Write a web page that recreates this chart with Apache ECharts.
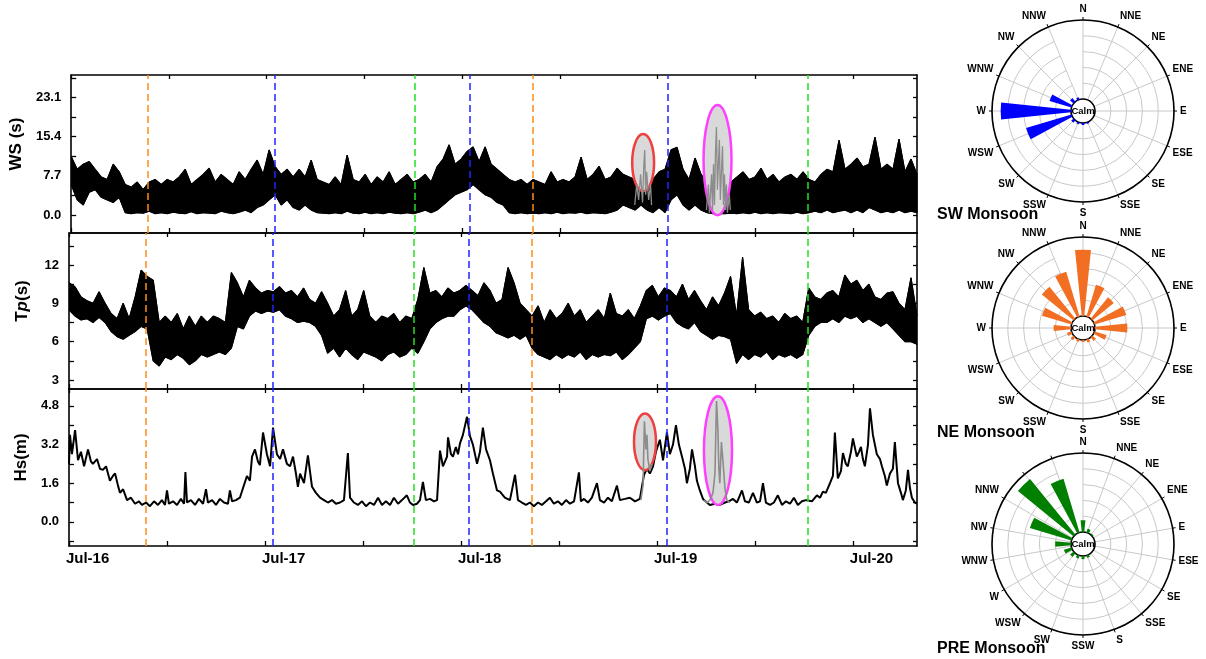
<!DOCTYPE html>
<html>
<head>
<meta charset="utf-8">
<script src="https://cdn.jsdelivr.net/npm/echarts@6/dist/echarts.min.js"></script>
<style>
  html, body { margin: 0; padding: 0; background: #fff; }
  #main { width: 1206px; height: 659px; }
</style>
</head>
<body>
<div id="main"></div>
<script>
// x axis: years counted from Jul-2016
var xMax = 4.327;
var yearLabels = ['Jul-16', 'Jul-17', 'Jul-18', 'Jul-19', 'Jul-20'];

// wind speed, read as low/high pairs every ~0.03 yr
var wsVals = [
  6,11.5, 3,9, 2,10, 4.5,10.5, 5,9, 3.5,7.5, 3,7, 2.5,10, 3.5,8.5, 0.5,6,
  0.3,5.5, 0.5,6.5, 0.4,5, 0.8,6.5, 0.3,7, 0.5,6, 0.3,7, 0.6,6.5, 0.4,7.5, 0.3,9,
  0.7,6, 0.3,7, 0.5,8, 0.4,9.2, 0.3,6.5, 0.8,8, 0.5,7, 0.3,6, 0.6,8.5, 1,7,
  0.5,9, 1.5,10.8, 2,8, 3,12.8, 4,9.5, 2,8, 3,9, 1.5,7.5, 1,9, 2,7.5,
  1,10.8, 0.5,7, 0.4,6.5, 0.3,6, 0.5,7.5, 0.3,6, 0.8,11.8, 0.4,7, 0.3,6.5, 0.6,8,
  0.3,6, 0.5,7.5, 0.3,6.5, 0.6,8.5, 0.4,6, 0.3,7, 0.5,8, 0.3,6.5, 0.6,7, 1,8,
  0.5,6.5, 1,9.5, 2,11, 3,13.8, 4,10, 4.5,11, 5,12.5, 6,13.4, 5,10.5, 4,13.4,
  3.5,10, 2.5,9, 2,8, 0.5,7, 0.3,6.5, 0.5,7, 0.3,6, 0.4,7, 0.3,6.5, 0.5,6,
  0.3,8.5, 0.6,6.5, 0.3,7, 0.5,6.5, 0.4,7.5, 0.6,11.4, 0.3,7, 0.5,8, 0.4,9.6, 0.3,7,
  0.6,7.5, 1,9.2, 2,8, 1.5,7.5, 1,7, 2,7.5, 1,8, 0.5,7, 1.5,8.5, 0.5,9,
  3,12.8, 4,13.3, 2,9, 1,7, 2,11.2, 1,8, 0.5,6.5, 0.3,5.5, 0.3,5, 0.3,6,
  0.4,6.5, 0.3,7.5, 0.5,8.5, 0.3,7, 0.6,7.5, 0.3,9.2, 0.5,7, 0.3,8, 0.5,6.5, 0.4,7.5,
  0.3,8, 0.6,7, 0.3,8.5, 0.5,7, 0.8,6.5, 0.5,8, 1,9, 0.5,8.5, 0.8,14.7, 1,9,
  0.5,10, 1,11.2, 0.5,9.5, 1.5,10, 1,15.3, 0.5,9, 0.8,10, 0.5,9, 1,14.9, 0.5,8.5,
  0.8,11, 0.5,8
];

// peak period, low/high pairs on the same spacing
var tpVals = [
  8.5,10.6, 8,10.3, 7.7,9.5, 7.8,9.2, 7.5,9, 7.9,9.9, 7.5,9, 6.8,8.2, 6.4,7.8, 6.2,9,
  6.5,7.8, 6.8,9.5, 7.2,11.6, 7,11.1, 4.5,10.8, 4.1,7.5, 4.8,8, 4.6,7.5, 5,8.2, 4.7,7,
  4.2,8, 4.5,7.2, 5,8, 4.8,7.5, 5,8, 5.2,7.8, 5,7.5, 5.5,11.4, 7.2,10.6, 7,9.5,
  8,10.8, 8.4,10.2, 8.2,9.8, 8.4,10, 8.3,9.9, 8.5,10.3, 8,9.8, 7.8,10, 7.5,9.5, 7.6,10.2,
  7.5,9.3, 7.2,9, 6.5,9.9, 5.1,9, 5.5,8, 4.8,8.5, 5.5,10, 5,8, 4.6,8.5, 5.2,10,
  5,8, 4.8,7.5, 4.5,8, 5,7.8, 5.2,8.2, 4.8,7.5, 5,8, 5.5,7.8, 5.1,9.3, 6,11.8,
  7,9.8, 7.5,10, 7.8,9.5, 8,10.2, 8,9.8, 8.5,10, 8.8,10.4, 8.5,10, 8,9.6, 7.5,10.6,
  7.2,10, 6.7,9, 6.5,9.3, 6.3,11.8, 6.5,10.6, 6.2,9, 6.5,8.5, 5.5,8, 5,8.8, 4.8,7.5,
  4.6,8.5, 5,7.8, 4.7,8.2, 5,9, 4.8,8, 5.2,8.5, 4.6,7.5, 5,8, 4.8,8.5, 5,7.8,
  4.9,9.8, 5.2,8.2, 4.6,8, 5,8.5, 5.5,7.8, 6,8.8, 7.8,10, 8,10.4, 7.7,9.5, 8,10.2,
  8.2,10, 7.5,9.5, 7.2,10.5, 7,9.3, 7.5,10, 6.8,9.2, 6.5,8.5, 6.2,9.5, 6.5,8.8, 6.4,9.8,
  6.2,11.1, 4.3,8, 5,12.6, 4.6,8.5, 5,8, 4.8,8.3, 5.2,7.8, 4.6,8, 5,7.5, 4.8,8.2,
  5,7.8, 4.7,8, 5,7.5, 6.5,10.2, 7.2,9.5, 7.5,9.3, 7.5,9.8, 7.8,10, 7.5,9.5, 8,11.2,
  7.8,10.5, 8,10.8, 7.5,10, 7.8,10.5, 7.5,9.5, 7.2,9.3, 7.5,9.8, 7,9.9, 6.5,9, 6,8.5,
  6,11, 5.8,8
];

// significant wave height [year, m]
var hsPoints = [
  [0,2.4],[0.005,3.6],[0.015,2.8],[0.031,3.8],[0.046,2.55],[0.061,2.9],[0.077,2.3],[0.097,3.0],[0.112,2.5],[0.122,2.4],
  [0.143,2.6],[0.158,2.2],[0.173,2.15],[0.189,2.3],[0.209,1.7],[0.224,1.9],[0.235,2.0],[0.25,1.5],[0.26,1.2],[0.276,1.35],
  [0.296,0.9],[0.316,1.0],[0.337,0.75],[0.357,0.85],[0.372,0.7],[0.393,0.8],[0.413,0.65],[0.434,0.85],[0.454,0.7],[0.474,0.9],
  [0.49,0.7],[0.5,1.3],[0.51,0.75],[0.531,0.85],[0.551,0.7],[0.571,0.95],[0.587,0.75],[0.594,2.06],[0.602,0.8],[0.622,0.9],
  [0.643,0.7],[0.663,0.95],[0.684,0.75],[0.699,1.35],[0.709,0.8],[0.73,0.9],[0.75,0.7],[0.77,0.95],[0.791,0.8],[0.811,0.75],
  [0.821,1.3],[0.832,0.85],[0.852,0.9],[0.872,1.0],[0.888,1.4],[0.908,1.9],[0.923,1.7],[0.934,2.7],[0.949,3.0],[0.964,2.5],
  [0.974,2.35],[0.99,3.7],[1.01,2.8],[1.026,2.3],[1.041,3.9],[1.061,2.8],[1.077,2.6],[1.092,3.0],[1.112,2.4],[1.128,2.3],
  [1.143,2.7],[1.158,2.0],[1.168,1.45],[1.179,2.0],[1.199,1.6],[1.219,2.75],[1.24,1.45],[1.26,1.2],[1.281,1.0],[1.301,0.9],
  [1.321,0.8],[1.342,0.9],[1.362,0.75],[1.383,0.8],[1.403,0.9],[1.423,2.85],[1.434,1.0],[1.454,0.8],[1.474,0.7],[1.495,0.85],
  [1.515,0.65],[1.536,0.8],[1.556,0.7],[1.577,1.0],[1.597,0.7],[1.617,0.85],[1.638,0.7],[1.658,1.0],[1.679,0.75],[1.699,0.9],
  [1.724,1.1],[1.74,0.8],[1.755,0.7],[1.776,0.75],[1.791,0.9],[1.806,1.65],[1.821,0.9],[1.842,0.95],[1.862,0.85],[1.878,0.9],
  [1.893,2.95],[1.908,2.3],[1.929,2.7],[1.934,3.5],[1.949,2.8],[1.959,2.7],[1.974,3.1],[1.985,2.8],[1.995,3.25],[2.01,3.6],
  [2.031,4.35],[2.046,3.55],[2.061,3.2],[2.082,2.4],[2.097,2.9],[2.112,3.9],[2.128,3.0],[2.148,2.55],[2.163,2.0],[2.184,1.3],
  [2.199,1.25],[2.224,1.0],[2.25,0.9],[2.276,1.95],[2.291,0.9],[2.311,0.8],[2.332,0.7],[2.352,0.8],[2.372,0.65],[2.393,0.8],
  [2.413,0.7],[2.434,0.85],[2.454,1.0],[2.474,0.75],[2.495,0.85],[2.515,0.7],[2.536,0.9],[2.556,0.75],[2.577,0.85],[2.602,2.05],
  [2.612,0.85],[2.628,0.95],[2.648,0.8],[2.668,1.0],[2.694,1.6],[2.709,0.9],[2.73,0.8],[2.75,1.0],[2.77,0.85],[2.796,1.5],
  [2.811,0.9],[2.837,0.95],[2.862,1.0],[2.888,0.85],[2.913,0.95],[2.923,0.9],[2.934,1.95],[2.949,2.2],[2.964,2.0],[2.98,2.3],
  [2.995,2.9],[3.015,3.4],[3.031,2.55],[3.051,3.7],[3.066,2.8],[3.082,3.2],[3.097,4.0],[3.112,3.2],[3.128,2.7],[3.143,2.2],
  [3.153,1.6],[3.168,2.2],[3.179,3.0],[3.194,2.3],[3.204,1.7],[3.219,1.3],[3.235,0.95],[3.255,0.8],[3.27,0.7],[3.296,0.75],
  [3.321,0.7],[3.347,0.8],[3.367,0.85],[3.388,0.95],[3.408,0.8],[3.434,1.3],[3.449,0.85],[3.469,0.8],[3.49,1.2],[3.51,0.8],
  [3.526,0.85],[3.541,1.6],[3.556,0.8],[3.577,0.7],[3.597,0.8],[3.617,1.1],[3.638,0.7],[3.658,0.85],[3.679,0.75],[3.699,1.0],
  [3.719,0.7],[3.74,0.85],[3.76,0.9],[3.77,0.95],[3.791,0.85],[3.816,1.1],[3.832,1.0],[3.847,1.25],[3.862,1.2],[3.883,1.6],
  [3.898,1.9],[3.908,3.7],[3.923,1.8],[3.939,2.1],[3.949,2.85],[3.964,2.4],[3.974,2.3],[3.99,2.9],[4.0,3.45],[4.02,2.7],
  [4.031,2.9],[4.041,3.1],[4.051,2.6],[4.061,2.3],[4.077,3.2],[4.087,4.7],[4.102,3.6],[4.122,2.8],[4.138,2.6],[4.148,2.3],
  [4.163,1.9],[4.173,1.5],[4.189,2.0],[4.204,2.2],[4.214,3.3],[4.23,1.6],[4.245,1.2],[4.255,0.9],[4.27,1.3],[4.281,2.15],
  [4.291,1.4],[4.301,1.0],[4.316,0.8],[4.327,0.75]
];

// gray traces inside the two highlighted events
var wsRedGray = [[2.883,2],[2.893,6],[2.903,3],[2.913,8],[2.923,2.5],[2.929,9.5],[2.934,12.8],[2.939,4],[2.944,8.5],[2.954,3],[2.964,6],[2.969,2]];
var wsPinkGray = [[3.25,1],[3.26,6],[3.265,0.5],[3.276,8],[3.281,1],[3.286,10],[3.291,2],[3.296,12],[3.301,17.3],[3.306,5],[3.311,10],
  [3.316,14.8],[3.321,3],[3.327,9],[3.332,13.5],[3.337,2],[3.342,8],[3.347,1],[3.352,6],[3.357,0.5],[3.367,4],[3.372,1]];
var hsRedGray = [[2.918,0.9],[2.929,1.5],[2.936,4.16],[2.944,3.0],[2.949,3.6],[2.954,2.6],[2.964,2.1],[2.974,2.4]];
var hsPinkGray = [[3.24,0.9],[3.255,0.8],[3.27,0.9],[3.286,1.2],[3.296,2.0],[3.304,5.0],[3.311,3.8],[3.316,2.2],[3.321,1.6],
  [3.329,3.3],[3.337,2.5],[3.347,1.4],[3.357,0.9],[3.372,0.8]];

// season boundaries (years from Jul-16)
var orangeLines = [0.39, 2.36];
var blueLines = [1.045, 2.043, 3.048];
var greenLines = [1.765, 3.775];

// wind roses, % per sector
var dirs = ['N','NNE','NE','ENE','E','ESE','SE','SSE','S','SSW','SW','WSW','W','WNW','NW','NNW'];
var preLabels = ['N','NNE','NE','ENE','E','ESE','SE','SSE','S','SSW','SW','WSW','W','WNW','NW','NNW','',''];
var swRose = [0,0,0,0,0,0,0,2,2.5,2.5,4,60,89,29,6,3];
var neRose = [84,42,35,42,41,16,6,4,2.5,3,5,6,22,39,52,59];
var preRose = [15,5,2,0,0,0,0,3,4,4,6,10,20,55,91,71];

var FONT = 'Liberation Sans, Arial, sans-serif';
var myChart = echarts.init(document.getElementById('main'));

function range(a, b, step) {
  var out = [];
  for (var v = a; v <= b + 1e-9; v += step) out.push(Math.round(v * 1000) / 1000);
  return out;
}

var gridDefs = [
  { top: 75, height: 158 },
  { top: 233, height: 156 },
  { top: 389, height: 157 }
];
var yDefs = [
  { min: -3.5, max: 27.5, labels: [0, 7.7, 15.4, 23.1], ticks: range(0, 27, 3.85), fix: 1,
    name: 'WS (s)' },
  { min: 2.3, max: 14.5, labels: [3, 6, 9, 12], ticks: range(3, 13.5, 1.5), fix: 0,
    name: '{n|T}{i|p}{n|(s)}' },
  { min: -1, max: 5.5, labels: [0, 1.6, 3.2, 4.8], ticks: range(-0.8, 5.2, 0.8), fix: 1,
    name: 'Hs(m)' }
];
var xTicks = range(0, 4, 0.5);
var frame = { onZero: false, lineStyle: { color: '#000', width: 1.6 } };

var grids = [], xAxes = [], yAxes = [];
gridDefs.forEach(function (g) {
  grids.push({ left: 69, right: 289, top: g.top, height: g.height, containLabel: false });
});
// bottom x axes 0..2
gridDefs.forEach(function (g, k) {
  xAxes.push({
    type: 'value', gridIndex: k, min: 0, max: xMax, position: 'bottom',
    axisLine: frame,
    axisTick: { inside: true, length: 5, customValues: xTicks, lineStyle: { color: '#000', width: 1.3 } },
    axisLabel: {
      show: k === 2, customValues: [0.095, 1.095, 2.095, 3.095, 4.095], margin: 5,
      formatter: function (v) { return yearLabels[Math.floor(v)]; },
      color: '#000', fontWeight: 'bold', fontSize: 15, fontFamily: FONT
    },
    splitLine: { show: false }
  });
});
// top x axes 3..5
gridDefs.forEach(function (g, k) {
  xAxes.push({
    type: 'value', gridIndex: k, min: 0, max: xMax, position: 'top',
    axisLine: frame,
    axisTick: { inside: true, length: 4, customValues: xTicks, lineStyle: { color: '#000', width: 1.3 } },
    axisLabel: { show: false }, splitLine: { show: false }
  });
});
// left y axes 0..2
yDefs.forEach(function (d, k) {
  yAxes.push({
    type: 'value', gridIndex: k, min: d.min, max: d.max, position: 'left',
    name: d.name, nameLocation: 'middle', nameGap: 38, nameRotate: 90,
    nameTextStyle: {
      color: '#000', fontWeight: 'bold', fontSize: 17, fontFamily: FONT, padding: [0, 0, 0, 20],
      rich: {
        n: { fontWeight: 'bold', fontSize: 17, fontFamily: FONT, color: '#000' },
        i: { fontWeight: 'bold', fontStyle: 'italic', fontSize: 17, fontFamily: FONT, color: '#000' }
      }
    },
    axisLine: Object.assign({ show: true }, frame),
    axisTick: { inside: true, length: 5, customValues: d.ticks, lineStyle: { color: '#000', width: 1.3 } },
    axisLabel: {
      customValues: d.labels, margin: 10,
      formatter: (function (fix) { return function (v) { return v.toFixed(fix); }; })(d.fix),
      color: '#000', fontWeight: 'bold', fontSize: 13, fontFamily: FONT
    },
    splitLine: { show: false }
  });
});
// right y axes 3..5
yDefs.forEach(function (d, k) {
  yAxes.push({
    type: 'value', gridIndex: k, min: d.min, max: d.max, position: 'right',
    axisLine: Object.assign({ show: true }, frame),
    axisTick: { inside: true, length: 4, customValues: d.ticks, lineStyle: { color: '#000', width: 1.3 } },
    axisLabel: { show: false }, splitLine: { show: false }
  });
});

function vLines() {
  var out = [];
  orangeLines.forEach(function (x) { out.push({ xAxis: x, lineStyle: { color: '#FF8C1A' } }); });
  blueLines.forEach(function (x) { out.push({ xAxis: x, lineStyle: { color: '#2222FF' } }); });
  greenLines.forEach(function (x) { out.push({ xAxis: x, lineStyle: { color: '#22E022' } }); });
  return {
    silent: true, symbol: 'none', label: { show: false }, z: 30,
    lineStyle: { type: [7, 4], width: 1.5 }, data: out
  };
}

function lineSeries(k, data, color, width, z) {
  return {
    type: 'line', xAxisIndex: k, yAxisIndex: k, data: data, showSymbol: false,
    symbol: 'none', z: z, lineStyle: { color: color, width: width }, animation: false
  };
}

// noisy records: a black band between the read lows and highs
function band(k, vals) {
  var dt = xMax / (vals.length / 2 - 1);
  var lows = [], highs = [];
  for (var i = 0; i < vals.length; i += 2) {
    var t = (i / 2) * dt;
    lows.push([t, vals[i]]);
    highs.push([t, vals[i + 1]]);
  }
  var fill = {
    type: 'custom', xAxisIndex: k, yAxisIndex: k, data: highs, clip: true, z: 1,
    encode: { x: 0, y: 1 }, animation: false, silent: true,
    renderItem: function (params, api) {
      if (params.dataIndex !== 0) return null;
      var pts = highs.map(function (p) { return api.coord(p); })
        .concat(lows.slice().reverse().map(function (p) { return api.coord(p); }));
      return { type: 'polygon', shape: { points: pts },
               style: { fill: '#000', stroke: '#000', lineWidth: 1 } };
    }
  };
  var edge = lineSeries(k, highs, '#000', 1.2, 2);
  edge.markLine = vLines();
  return [fill, edge, lineSeries(k, lows, '#000', 1.2, 2)];
}

var series = [].concat(
  band(0, wsVals),
  band(1, tpVals),
  [Object.assign(lineSeries(2, hsPoints, '#000', 2, 2), { markLine: vLines() }),
   lineSeries(0, wsRedGray, '#8c8c8c', 1.3, 20),
   lineSeries(0, wsPinkGray, '#8c8c8c', 1.3, 20),
   lineSeries(2, hsRedGray, '#8c8c8c', 1.6, 20),
   lineSeries(2, hsPinkGray, '#8c8c8c', 1.6, 20)]
);

// wind roses
var roseCenters = [[1083, 111], [1083, 328], [1083, 544]];
var roseRadius = [12, 91];
var polars = [], angleAxes = [], radiusAxes = [];
function angleAxis(idx, labels) {
  return {
    polarIndex: idx, type: 'category', data: labels, boundaryGap: false, startAngle: 90,
    axisLine: { lineStyle: { color: '#000', width: 1.6 } },
    axisTick: { show: true, length: 3, lineStyle: { color: '#000' } },
    axisLabel: { margin: 6, color: '#000', fontWeight: 'bold', fontSize: 10, fontFamily: FONT },
    splitLine: { show: true, lineStyle: { color: '#c8c8c8', width: 1 } }
  };
}
roseCenters.forEach(function (c, k) {
  polars.push({ center: c, radius: roseRadius });
  angleAxes.push(angleAxis(k, k === 2 ? preLabels : dirs));
  radiusAxes.push({
    polarIndex: k, min: 0, max: 100, interval: 20,
    axisLine: { show: false }, axisTick: { show: false }, axisLabel: { show: false },
    splitLine: { show: true, lineStyle: { color: '#c8c8c8', width: 1 } }
  });
});
// PRE bars sit on 16 true sectors while its labels use 18 slots
polars.push({ center: roseCenters[2], radius: roseRadius });
angleAxes.push({ polarIndex: 3, type: 'category', data: dirs, boundaryGap: false, startAngle: 90, show: false });
radiusAxes.push({ polarIndex: 3, min: 0, max: 100, show: false });

var roses = [[0, swRose, '#0000FF'], [1, neRose, '#F26E22'], [3, preRose, '#007F00']];
roses.forEach(function (r) {
  series.push({
    type: 'bar', coordinateSystem: 'polar', polarIndex: r[0], data: r[1],
    barCategoryGap: '48%', itemStyle: { color: r[2] }, z: 3, animation: false
  });
});

var texts = [];
roseCenters.forEach(function (c) {
  texts.push({
    type: 'text', x: c[0], y: c[1], z: 50,
    style: { text: 'Calm', font: 'bold 9.5px ' + FONT, fill: '#000', align: 'center', verticalAlign: 'middle' }
  });
});
[['SW Monsoon', 215], ['NE Monsoon', 433], ['PRE Monsoon', 649]].forEach(function (t) {
  texts.push({
    type: 'text', x: 937, y: t[1], z: 50,
    style: { text: t[0], font: 'bold 16px ' + FONT, fill: '#000', align: 'left', verticalAlign: 'middle' }
  });
});

myChart.setOption({
  animation: false,
  textStyle: { fontFamily: FONT },
  grid: grids,
  xAxis: xAxes,
  yAxis: yAxes,
  polar: polars,
  angleAxis: angleAxes,
  radiusAxis: radiusAxes,
  series: series,
  graphic: texts
});

// highlight ellipses, given in data units: [grid, t0, t1, v0, v1, colour]
var highlights = [
  [0, 2.870, 2.982, 4.7, 15.9, '#EE4040'],
  [0, 3.235, 3.378, 0.0, 21.6, '#FF40FF'],
  [2, 2.883, 2.995, 2.14, 4.49, '#EE4040'],
  [2, 3.240, 3.383, 0.7, 5.2, '#FF40FF']
];
var ellipses = highlights.map(function (h, i) {
  var p0 = myChart.convertToPixel({ xAxisIndex: h[0], yAxisIndex: h[0] }, [h[1], h[3]]);
  var p1 = myChart.convertToPixel({ xAxisIndex: h[0], yAxisIndex: h[0] }, [h[2], h[4]]);
  return {
    type: 'ellipse', id: 'hl' + i, z: 10,
    shape: { cx: (p0[0] + p1[0]) / 2, cy: (p0[1] + p1[1]) / 2,
             rx: Math.abs(p1[0] - p0[0]) / 2, ry: Math.abs(p1[1] - p0[1]) / 2 },
    style: { fill: '#d9d9d9', stroke: h[5], lineWidth: 2.5 }
  };
});
myChart.setOption({ graphic: texts.concat(ellipses) });
</script>
</body>
</html>
